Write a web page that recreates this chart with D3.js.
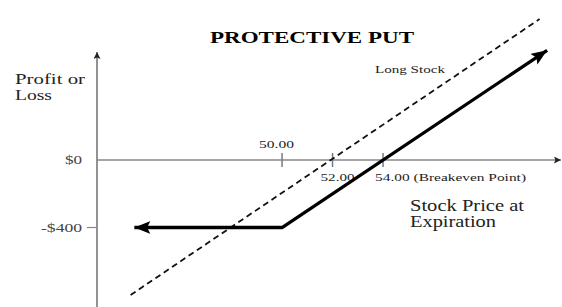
<!doctype html>
<html>
<head>
<meta charset="utf-8">
<title>Protective Put</title>
<script src="https://cdn.jsdelivr.net/npm/d3@7"></script>
<style>
  body { margin: 0; background: #fff; }
  svg { display: block; }
  text { font-family: "Liberation Serif", "DejaVu Serif", serif; fill: #222; }
</style>
</head>
<body>
<svg id="chart" width="562" height="307"></svg>
<script>
// payoff of the protective put (stock price at expiration, profit)
var putPrices = [44.15, 50, 60.5];
var putProfit = [-400, -400, 650];

// long stock alone (dashed)
var stockPrices = [44.0, 60.2];
var stockProfit = [-800, 835];

// x axis ticks
var tickPrices = [50, 52, 54];
var tickLabels = ["50.00", "52.00", "54.00 (Breakeven Point)"];

// y axis ticks
var yTicks = [0, -400];
var yTickLabels = ["$0", "-$400"];

var svg = d3.select("#chart");

var x = d3.scaleLinear().domain([42.67, 61.05]).range([97, 561]);
var y = d3.scaleLinear().domain([-871, 640]).range([307, 52]);

var defs = svg.append("defs");
function arrow(id, len, wid, col) {
  defs.append("marker")
      .attr("id", id)
      .attr("viewBox", "0 0 " + len + " " + wid)
      .attr("refX", len).attr("refY", wid / 2)
      .attr("markerWidth", len).attr("markerHeight", wid)
      .attr("markerUnits", "userSpaceOnUse")
      .attr("orient", "auto-start-reverse")
    .append("path")
      .attr("d", "M0,0L" + len + "," + (wid / 2) + "L0," + wid + "L" + (len * 0.2) + "," + (wid / 2) + "Z")
      .attr("fill", col);
}
arrow("axisHead", 7, 7, "#222");
arrow("bigHead", 16, 13, "#000");

// axes
var x0 = x.domain()[0], x1 = x.domain()[1];
var yTop = y.domain()[1], yBot = y.domain()[0];

svg.append("line")
    .attr("x1", x(x0)).attr("y1", y(yBot))
    .attr("x2", x(x0)).attr("y2", y(yTop))
    .attr("stroke", "#6e6e6e").attr("stroke-width", 1.5)
    .attr("marker-end", "url(#axisHead)");

svg.append("line")
    .attr("x1", x(x0)).attr("y1", y(0))
    .attr("x2", x(x1)).attr("y2", y(0))
    .attr("stroke", "#888").attr("stroke-width", 1.5)
    .attr("marker-end", "url(#axisHead)");

// x ticks
svg.selectAll(".xtick")
  .data(tickPrices)
  .enter().append("line")
    .attr("class", "xtick")
    .attr("x1", function(d) { return x(d); }).attr("x2", function(d) { return x(d); })
    .attr("y1", y(0) - 7).attr("y2", y(0) + 7)
    .attr("stroke", "#6f7b88").attr("stroke-width", 1.5);

// x tick labels (50.00 above, the others below)
var xLabelPos = [
  { dx: -23, y: 148, len: 35 },
  { dx: -12, y: 181, len: 34 },
  { dx: -8, y: 181, len: 151 }
];
svg.selectAll(".xlab")
  .data(tickPrices)
  .enter().append("text")
    .attr("class", "xlab")
    .attr("x", function(d, i) { return x(d) + xLabelPos[i].dx; })
    .attr("y", function(d, i) { return xLabelPos[i].y; })
    .attr("textLength", function(d, i) { return xLabelPos[i].len; })
    .attr("lengthAdjust", "spacingAndGlyphs")
    .style("font-size", "10.5px")
    .text(function(d, i) { return tickLabels[i]; });

// y ticks
svg.selectAll(".ytick")
  .data(yTicks.filter(function(d) { return d != 0; }))
  .enter().append("line")
    .attr("class", "ytick")
    .attr("x1", x(x0) - 10).attr("x2", x(x0))
    .attr("y1", function(d) { return y(d); }).attr("y2", function(d) { return y(d); })
    .attr("stroke", "#888").attr("stroke-width", 1.2);

var yLabLen = [17, 41];
svg.selectAll(".ylab")
  .data(yTicks)
  .enter().append("text")
    .attr("class", "ylab")
    .attr("x", 82)
    .attr("y", function(d) { return y(d) + 4; })
    .attr("text-anchor", "end")
    .attr("textLength", function(d, i) { return yLabLen[i]; })
    .attr("lengthAdjust", "spacingAndGlyphs")
    .style("font-size", "11.5px")
    .style("fill", "#444")
    .text(function(d, i) { return yTickLabels[i]; });

// long stock, dashed
var line = d3.line()
    .x(function(d) { return x(d[0]); })
    .y(function(d) { return y(d[1]); });

svg.append("path")
    .datum(d3.zip(stockPrices, stockProfit))
    .attr("d", line)
    .attr("fill", "none")
    .attr("stroke", "#111").attr("stroke-width", 1.8)
    .attr("stroke-dasharray", "6,4");

// protective put payoff
svg.append("path")
    .datum(d3.zip(putPrices, putProfit))
    .attr("d", line)
    .attr("fill", "none")
    .attr("stroke", "#000").attr("stroke-width", 3.3)
    .attr("stroke-linejoin", "round")
    .attr("marker-start", "url(#bigHead)")
    .attr("marker-end", "url(#bigHead)");

// titles and labels
function label(txt, px, py, size, len, bold) {
  return svg.append("text")
      .attr("x", px).attr("y", py)
      .attr("textLength", len)
      .attr("lengthAdjust", "spacingAndGlyphs")
      .style("font-size", size + "px")
      .style("font-weight", bold ? "bold" : "normal")
      .style("fill", bold ? "#000" : "#222")
      .text(txt);
}
label("PROTECTIVE PUT", 210, 43, 16.5, 204, true);
label("Profit or", 15, 84, 15, 70);
label("Loss", 15, 100, 15, 37);
label("Long Stock", 375, 73, 11, 70);
label("Stock Price at", 410, 211, 16, 114);
label("Expiration", 410, 227, 16, 86);
</script>
</body>
</html>
